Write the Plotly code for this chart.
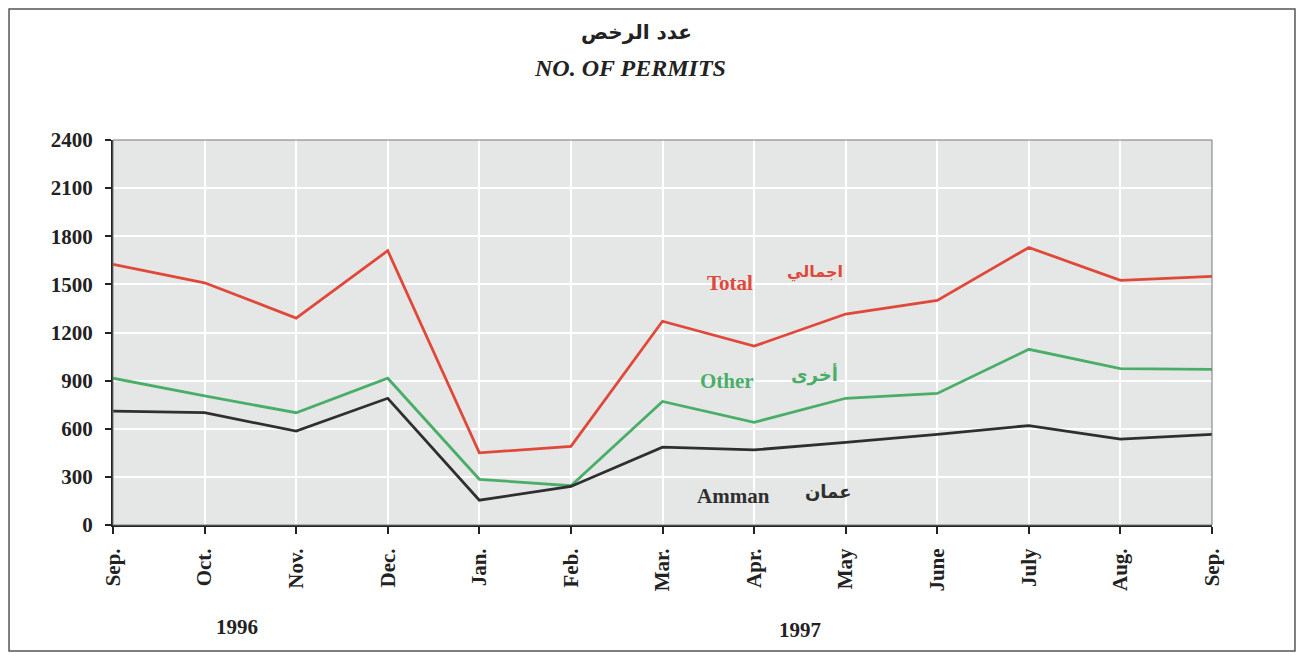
import plotly.graph_objects as go

months = ["Sep.", "Oct.", "Nov.", "Dec.", "Jan.", "Feb.", "Mar.", "Apr.", "May", "June", "July", "Aug.", "Sep."]
total = [1625, 1510, 1290, 1710, 450, 490, 1270, 1115, 1315, 1400, 1730, 1525, 1550]
other = [915, 805, 700, 915, 285, 245, 770, 640, 790, 820, 1095, 975, 970]
amman = [710, 700, 585, 790, 155, 240, 485, 468, 515, 565, 620, 535, 565]
y_ticks = [0, 300, 600, 900, 1200, 1500, 1800, 2100, 2400]

RED = "#e0483a"
GREEN = "#4aae68"
BLACK = "#2f2f2f"
SERIF = "Liberation Serif, Times New Roman, serif"
ARAB = "DejaVu Sans, Noto Sans, sans-serif"

x = list(range(len(months)))
fig = go.Figure()
for vals, col in [(total, RED), (other, GREEN), (amman, BLACK)]:
    fig.add_trace(go.Scatter(x=x, y=vals, mode="lines",
                             line=dict(color=col, width=2.8), showlegend=False,
                             hoverinfo="skip"))

tickfont = dict(family=SERIF, size=21, color="#222", weight="bold")

fig.update_layout(
    width=1288, height=644,
    margin=dict(l=105, r=84, t=132, b=127),
    paper_bgcolor="white", plot_bgcolor="#e5e7e7",
    xaxis=dict(range=[0, 12], tickmode="array", tickvals=x, ticktext=months,
               tickangle=-90, showgrid=True, gridcolor="white", gridwidth=2,
               showline=True, linecolor="#222", linewidth=2, ticks="outside",
               ticklen=7, tickwidth=1.5, tickcolor="#222", zeroline=False,
               ticklabelstandoff=6, tickfont=tickfont),
    yaxis=dict(range=[0, 2400], tickmode="array", tickvals=y_ticks,
               showgrid=True, gridcolor="white", gridwidth=2,
               showline=True, linecolor="#222", linewidth=2, ticks="outside",
               ticklen=6, tickwidth=1.5, tickcolor="#222", zeroline=False,
               ticklabelstandoff=8, tickfont=tickfont),
    shapes=[
        dict(type="rect", xref="paper", yref="paper", x0=0, x1=1, y0=0, y1=1,
             line=dict(color="#777", width=1), fillcolor="rgba(0,0,0,0)", layer="above"),
        dict(type="rect", xref="paper", yref="paper", x0=-0.0946, x1=1.0755, y0=-0.327, y1=1.340,
             line=dict(color="#555", width=1.5), fillcolor="rgba(0,0,0,0)"),
    ],
)

def lab(text, x, y, xref, yref, family, size, color):
    return dict(text=text, x=x, y=y, xref=xref, yref=yref, showarrow=False,
                xanchor="center", yanchor="middle",
                font=dict(family=family, size=size, color=color))

ann = [
    lab("<b>عدد الرخص</b>", 0.476, 1.2805, "paper", "paper", ARAB, 20, "#222"),
    lab("<b><i>NO. OF PERMITS</i></b>", 0.470, 1.187, "paper", "paper", SERIF, 24, "#222"),
    lab("<b>Total</b>", 6.737, 1508, "x", "y", SERIF, 21, RED),
    lab("<b>اجمالي</b>", 7.665, 1577, "x", "y", ARAB, 16, RED),
    lab("<b>Other</b>", 6.705, 898, "x", "y", SERIF, 21, GREEN),
    lab("<b>أخرى</b>", 7.665, 941, "x", "y", ARAB, 18, GREEN),
    lab("<b>Amman</b>", 6.77, 181, "x", "y", SERIF, 21, BLACK),
    lab("<b>عمان</b>", 7.81, 206, "x", "y", ARAB, 18, BLACK),
    lab("<b>1996</b>", 1.354, -0.265, "x", "paper", SERIF, 21, "#222"),
    lab("<b>1997</b>", 7.50, -0.273, "x", "paper", SERIF, 21, "#222"),
]
fig.update_layout(annotations=ann)

fig.write_html("out.html")
